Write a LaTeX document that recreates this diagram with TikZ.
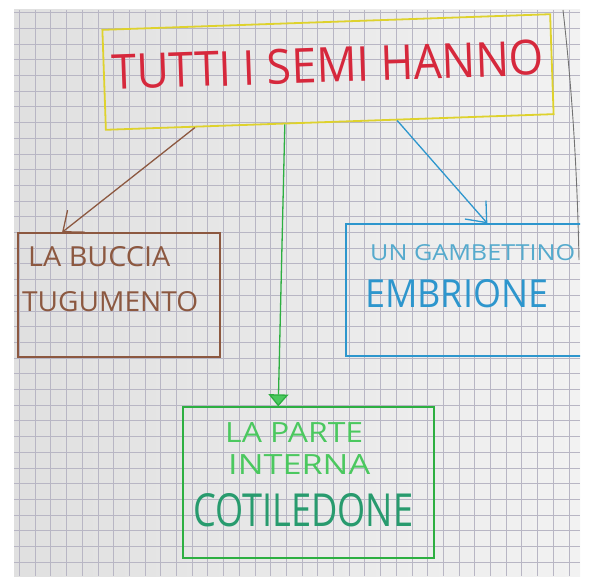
\documentclass[tikz,border=0pt]{standalone}
\usepackage{fontspec}
\setmainfont{Open Sans}
\usepackage{graphicx}
\usetikzlibrary{positioning,calc,arrows.meta}

\definecolor{paper}{RGB}{224,224,224}
\definecolor{paperlight}{RGB}{242,242,242}
\definecolor{gridline}{RGB}{184,182,196}
\definecolor{penred}{RGB}{214,40,60}
\definecolor{penyellow}{RGB}{222,210,45}
\definecolor{penbrown}{RGB}{140,88,64}
\definecolor{penblue}{RGB}{45,150,205}
\definecolor{penlightblue}{RGB}{85,170,205}
\definecolor{pengreen}{RGB}{45,175,65}
\definecolor{penlightgreen}{RGB}{75,200,95}
\definecolor{penteal}{RGB}{40,155,110}

% hand lettering: width and cap height in px
\newcommand{\hand}[3]{\resizebox{#1pt}{#2pt}{#3}}

\begin{document}
\begin{tikzpicture}[x=1pt,y=-1pt]
		\useasboundingbox (0,0) rectangle (589,578);

		% the sheet
		\shade[left color=paper, right color=paperlight] (14,10) rectangle (580,576);

		\begin{scope}
		\clip (14,10) rectangle (580,576);

		% draw grid
		\foreach \i in {0,...,37} {
			\draw [gridline, line width=0.5pt] ({3.6+15.7*\i},10) -- ({3.6+15.7*\i},576);
			\draw [gridline, line width=0.5pt] (14,{12.5+15.7*\i}) -- (580,{12.5+15.7*\i});
		}
		\draw [black!55, line width=0.9pt] (563,10) .. controls (571,80) and (577,160) .. (579,260);

		% draw the boxes
		\node (top) [draw=penyellow, line width=1.8pt, minimum width=448, minimum height=100, rotate=2] at (328,72) {};
		\node (buccia) [draw=penbrown, line width=1.3pt, minimum width=202, minimum height=124] at (119,295) {};
		\node (embrione) [draw=penblue, line width=1.3pt, minimum width=250, minimum height=132] at (471,290) {};
		\node (cotiledone) [draw=pengreen, line width=1.3pt, minimum width=251, minimum height=151] at (308.5,482.5) {};

		% the writing
		\node (title) [text=penred, inner sep=0, rotate=2] at (328,65) {\hand{432}{35}{TUTTI I SEMI HANNO}};
		\node (buccia a) [text=penbrown, inner sep=0, anchor=south west] at (28,267) {\hand{142}{20}{LA BUCCIA}};
		\node (buccia b) [text=penbrown, inner sep=0, anchor=south west] at (22,312) {\hand{176}{20}{TUGUMENTO}};
		\node (embrione a) [text=penlightblue, inner sep=0, anchor=south west] at (370,261) {\hand{205}{16}{UN GAMBETTINO}};
		\node (embrione b) [text=penblue, inner sep=0, anchor=south west] at (365,308) {\hand{183}{28}{EMBRIONE}};
		\node (cotiledone a) [text=penlightgreen, inner sep=0, anchor=south west] at (225,443) {\hand{138}{20}{LA PARTE}};
		\node (cotiledone b) [text=penlightgreen, inner sep=0, anchor=south west] at (228,475) {\hand{142}{20}{INTERNA}};
		\node (cotiledone c) [text=penteal, inner sep=0, anchor=south west] at (193,527) {\hand{220}{33}{COTILEDONE}};

		% draw arrows from the top box
		\draw [penbrown, line width=1.3pt, -{Straight Barb[length=17pt,width=28pt]}]
			($(top.south west)!0.2!(top.south east)$) -- ($(buccia.north west)!0.22!(buccia.north east)$);
		\draw [pengreen, line width=1.3pt, -{Triangle[length=12pt,width=20pt,fill=penlightgreen]}]
			($(top.south west)!0.4!(top.south east)$) -- ($(cotiledone.north west)!0.38!(cotiledone.north east)$);
		\draw [penblue, line width=1.3pt, -{Straight Barb[length=17pt,width=28pt]}]
			($(top.south west)!0.65!(top.south east)$) -- ($(embrione.north west)!0.565!(embrione.north east)$);
		\end{scope}
\end{tikzpicture}
\end{document}
